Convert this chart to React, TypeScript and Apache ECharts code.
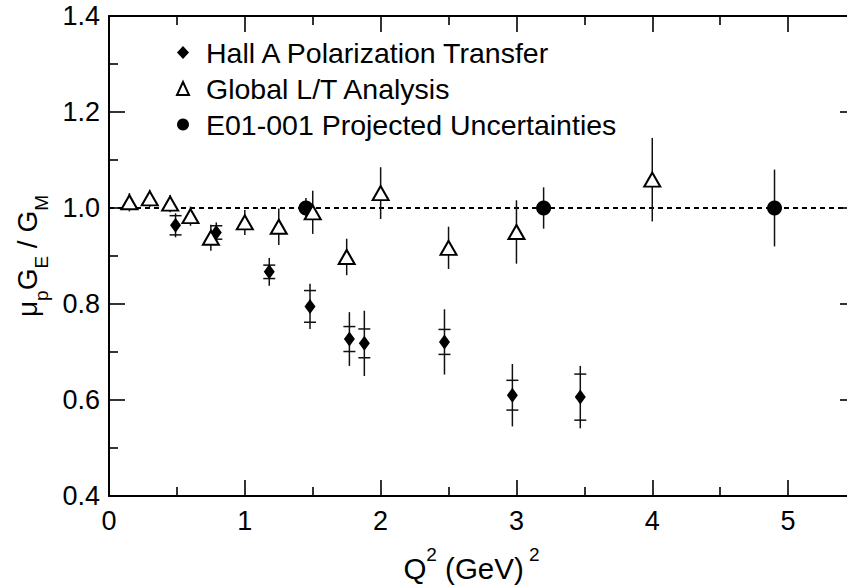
import React, { useEffect, useRef } from "react";
import * as echarts from "echarts";

// ---- Data ----
// Hall A polarization transfer: Q^2, ratio, statistical error, total error
const HALL_Q2 = [0.49, 0.79, 1.18, 1.48, 1.77, 1.88, 2.47, 2.97, 3.47];
const HALL_R = [0.964, 0.949, 0.867, 0.795, 0.727, 0.718, 0.721, 0.61, 0.606];
const HALL_STAT = [0.02, 0.014, 0.014, 0.033, 0.026, 0.03, 0.026, 0.031, 0.048];
const HALL_TOT = [0.025, 0.021, 0.029, 0.047, 0.056, 0.068, 0.068, 0.065, 0.065];

// Global L/T analysis: Q^2, ratio, error
const LT_Q2 = [0.15, 0.3, 0.45, 0.6, 0.75, 1.0, 1.25, 1.5, 1.75, 2.0, 2.5, 3.0, 4.0];
const LT_R = [1.012, 1.02, 1.009, 0.983, 0.938, 0.97, 0.961, 0.991, 0.898, 1.031, 0.917, 0.95, 1.059];
const LT_ERR = [0.019, 0.018, 0.018, 0.02, 0.027, 0.026, 0.038, 0.045, 0.038, 0.054, 0.044, 0.066, 0.087];

// E01-001 projected uncertainties
const E01_Q2 = [1.45, 3.2, 4.9];
const E01_R = [1.0, 1.0, 1.0];
const E01_ERR = [0.021, 0.043, 0.08];

// Reference line at unity
const REF_X = [0, 5.5];
const REF_Y = [1.0, 1.0];

const SERIES_NAMES = [
  "Hall A Polarization Transfer",
  "Global L/T Analysis",
  "E01-001 Projected Uncertainties",
];

const FONT = "'Liberation Sans', Arial, Helvetica, sans-serif";

export default function App() {
  const ref = useRef<HTMLDivElement>(null);

  useEffect(() => {
    if (!ref.current) return;
    const chart = echarts.init(ref.current, null, { renderer: "svg" });

    const axisLine = { show: true, onZero: false, lineStyle: { color: "#000", width: 2 } };
    const axisTick = { show: true, inside: true, length: 16, lineStyle: { color: "#000", width: 1.6 } };
    const minorTick = { show: true, splitNumber: 2, length: 9, lineStyle: { color: "#000", width: 1.6 } };

    const hallData = HALL_Q2.map((x, i) => [x, HALL_R[i], HALL_STAT[i], HALL_TOT[i]]);
    const ltData = LT_Q2.map((x, i) => [x, LT_R[i], LT_ERR[i]]);
    const e01Data = E01_Q2.map((x, i) => [x, E01_R[i], E01_ERR[i]]);

    const errStyle = { stroke: "#111", lineWidth: 1.5 };

    const hallErr = (params: any, api: any) => {
      const x = api.value(0);
      const y = api.value(1);
      const st = api.value(2);
      const tot = api.value(3);
      const top = api.coord([x, y + tot]);
      const bot = api.coord([x, y - tot]);
      const sTop = api.coord([x, y + st]);
      const sBot = api.coord([x, y - st]);
      const hw = 6;
      return {
        type: "group",
        children: [
          { type: "line", shape: { x1: top[0], y1: top[1], x2: bot[0], y2: bot[1] }, style: errStyle },
          { type: "line", shape: { x1: sTop[0] - hw, y1: sTop[1], x2: sTop[0] + hw, y2: sTop[1] }, style: errStyle },
          { type: "line", shape: { x1: sBot[0] - hw, y1: sBot[1], x2: sBot[0] + hw, y2: sBot[1] }, style: errStyle },
        ],
      };
    };

    const simpleErr = (params: any, api: any) => {
      const x = api.value(0);
      const y = api.value(1);
      const e = api.value(2);
      const top = api.coord([x, y + e]);
      const bot = api.coord([x, y - e]);
      return {
        type: "line",
        shape: { x1: top[0], y1: top[1], x2: bot[0], y2: bot[1] },
        style: errStyle,
      };
    };

    const option: any = {
      animation: false,
      backgroundColor: "#fff",
      textStyle: { fontFamily: FONT, color: "#000" },
      grid: { left: 109, top: 16, width: 747, height: 481, containLabel: false },
      legend: {
        orient: "vertical",
        left: 176,
        top: 38,
        padding: 0,
        itemWidth: 12,
        itemHeight: 13,
        itemGap: 7,
        selectedMode: false,
        textStyle: { fontSize: 28.5, fontFamily: FONT, color: "#000", lineHeight: 29, padding: [0, 0, 0, 12] },
        data: SERIES_NAMES,
      },
      xAxis: [
        {
          type: "value",
          position: "bottom",
          min: 0,
          max: 5.5,
          interval: 1,
          axisLine,
          axisTick,
          minorTick,
          splitLine: { show: false },
          axisLabel: {
            fontSize: 27,
            fontFamily: FONT,
            color: "#000",
            margin: 11,
            formatter: (v: number) => (Number.isInteger(v) ? String(v) : ""),
          },
          name: "{a|Q}{p|2}{a| (GeV)}{p| 2}",
          nameLocation: "middle",
          nameGap: 49,
          nameTextStyle: {
            padding: [0, 22, 0, 0],
            rich: {
              a: { fontSize: 29.5, fontFamily: FONT, color: "#000", lineHeight: 38, verticalAlign: "bottom" },
              p: { fontSize: 19, fontFamily: FONT, color: "#000", lineHeight: 38, verticalAlign: "top" },
            },
          },
        },
        {
          type: "value",
          position: "top",
          min: 0,
          max: 5.5,
          interval: 1,
          axisLine,
          axisTick,
          minorTick,
          splitLine: { show: false },
          axisLabel: { show: false },
        },
      ],
      yAxis: [
        {
          type: "value",
          position: "left",
          min: 0.4,
          max: 1.4,
          interval: 0.2,
          axisLine,
          axisTick,
          minorTick,
          splitLine: { show: false },
          axisLabel: {
            fontSize: 27,
            fontFamily: FONT,
            color: "#000",
            margin: 9,
            formatter: (v: number) => v.toFixed(1),
          },
          name: "{a|μ}{s|p}{a|G}{s|E}{a| / G}{s|M}",
          nameLocation: "middle",
          nameRotate: 90,
          nameGap: 58,
          nameTextStyle: {
            rich: {
              a: { fontSize: 28, fontFamily: FONT, color: "#000", lineHeight: 38, verticalAlign: "top" },
              s: { fontSize: 19, fontFamily: FONT, color: "#000", lineHeight: 38, verticalAlign: "bottom" },
            },
          },
        },
        {
          type: "value",
          position: "right",
          min: 0.4,
          max: 1.4,
          interval: 0.2,
          axisLine,
          axisTick,
          minorTick,
          splitLine: { show: false },
          axisLabel: { show: false },
        },
      ],
      series: [
        {
          type: "line",
          name: "unity",
          data: REF_X.map((x, i) => [x, REF_Y[i]]),
          symbol: "none",
          lineStyle: { color: "#000", width: 2, type: [5, 4] },
          z: 1,
          silent: true,
        },
        {
          type: "custom",
          name: "hallErr",
          data: hallData,
          renderItem: hallErr,
          encode: { x: 0, y: 1 },
          z: 2,
          silent: true,
        },
        {
          type: "custom",
          name: "ltErr",
          data: ltData,
          renderItem: simpleErr,
          encode: { x: 0, y: 1 },
          z: 2,
          silent: true,
        },
        {
          type: "custom",
          name: "e01Err",
          data: e01Data,
          renderItem: simpleErr,
          encode: { x: 0, y: 1 },
          z: 2,
          silent: true,
        },
        {
          type: "scatter",
          name: SERIES_NAMES[2],
          data: e01Data.map((d) => [d[0], d[1]]),
          symbol: "circle",
          symbolSize: 15,
          itemStyle: { color: "#000", opacity: 1 },
          z: 3,
        },
        {
          type: "scatter",
          name: SERIES_NAMES[1],
          data: ltData.map((d) => [d[0], d[1]]),
          symbol: "triangle",
          symbolSize: [16, 14],
          itemStyle: { color: "#fff", borderColor: "#000", borderWidth: 2, opacity: 1 },
          z: 4,
        },
        {
          type: "scatter",
          name: SERIES_NAMES[0],
          data: hallData.map((d) => [d[0], d[1]]),
          symbol: "diamond",
          symbolSize: [11, 15],
          itemStyle: { color: "#000", opacity: 1 },
          z: 5,
        },
      ],
    };

    chart.setOption(option);
    return () => chart.dispose();
  }, []);

  return (
    <div
      ref={ref}
      style={{ position: "fixed", left: 0, top: 0, width: 870, height: 588, background: "#fff" }}
    />
  );
}
